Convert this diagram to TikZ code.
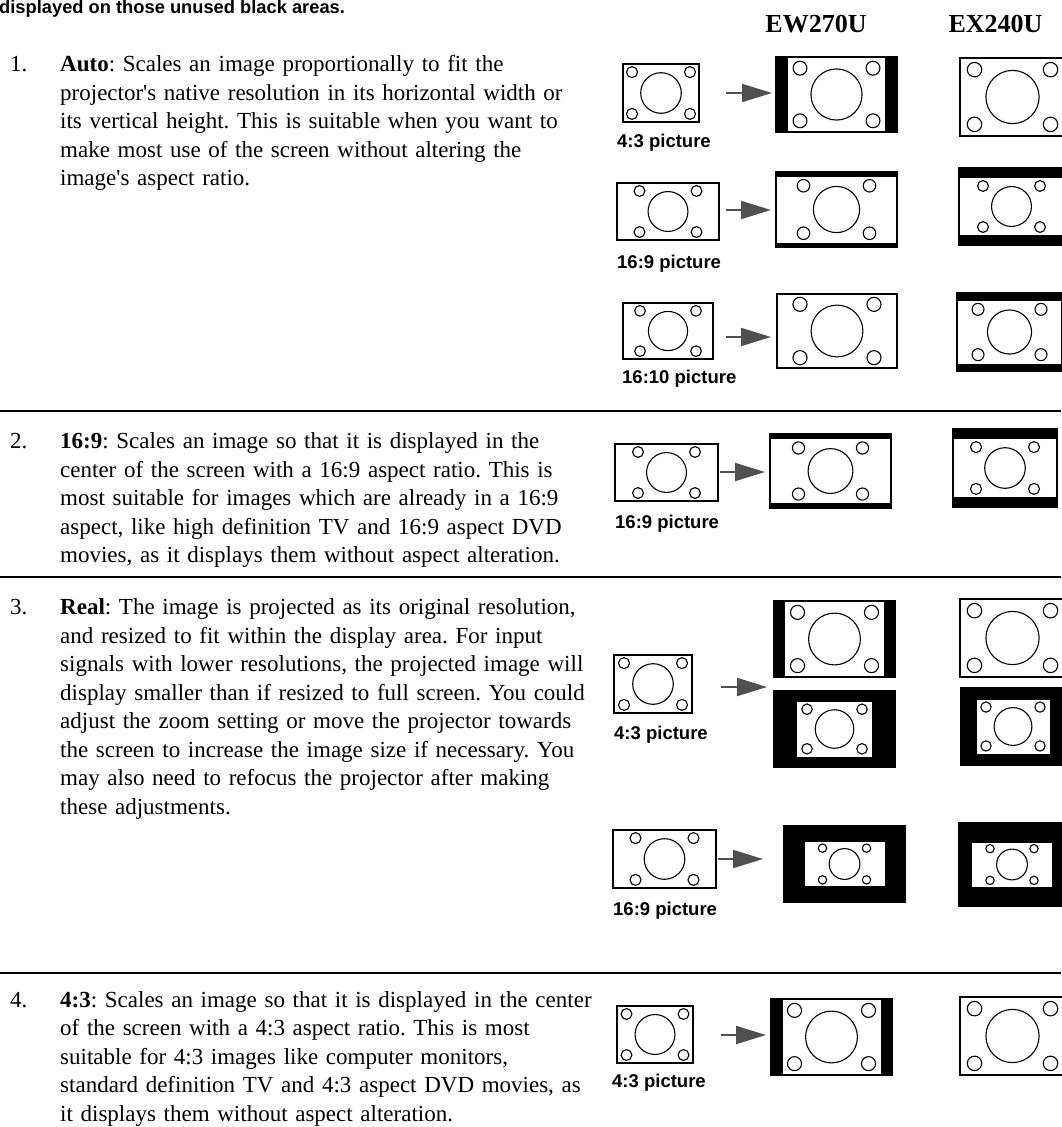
\documentclass[tikz,border=0pt]{standalone}
\usepackage{fontspec}
\setmainfont{Liberation Serif}
\setsansfont{Liberation Sans}
\frenchspacing
\usetikzlibrary{arrows.meta}
\definecolor{arrowgray}{RGB}{80,80,80}
\tikzset{
  pointer/.style={-{Triangle[length=30pt,width=18pt]},draw=arrowgray,fill=arrowgray,line width=2pt},
  rule/.style={line width=2.2pt},
  para/.style={anchor=base west,inner sep=0pt,text width=600pt,align=left,
    font=\fontsize{23}{28.5}\selectfont},
  num/.style={anchor=base west,inner sep=0pt,font=\fontsize{23}{28.5}\selectfont},
  model/.style={anchor=base,inner sep=0pt,font=\fontsize{26}{30}\selectfont\bfseries},
  pictag/.style={anchor=base west,inner sep=0pt,font=\sffamily\bfseries\fontsize{18.5}{22}\selectfont},
  % pictograms
  pics/face/.style={code={
    \draw[line width=1.1pt] (0,0) circle (0.35*#1);
    \foreach \sx in {-1,1} \foreach \sy in {-1,1}
      \draw[line width=1.1pt] (\sx*0.5*#1,\sy*0.36*#1) circle (0.095*#1);
  }},
  pics/source/.style 2 args={code={
    \fill[white] (-#1/2,-#2/2) rectangle (#1/2,#2/2);
    \pic {face=#2};
    \draw[line width=2.6pt] (-#1/2,-#2/2) rectangle (#1/2,#2/2);
  }},
  pics/screen/.style n args={5}{code={
    \fill[black] (-#1/2,-#2/2) rectangle (#1/2,#2/2);
    \fill[white] (-#3/2,-#4/2) rectangle (#3/2,#4/2);
    \begin{scope}
      \clip (-#3/2,-#4/2) rectangle (#3/2,#4/2);
      \pic {face=#5};
    \end{scope}
  }},
}
\begin{document}
\begin{tikzpicture}[x=1pt,y=-1pt]
  \useasboundingbox (0,0) rectangle (1061,1127);

  \node[anchor=base west,inner sep=0pt,font=\sffamily\bfseries\fontsize{18.3}{22}\selectfont] (note) at (-1,13) {displayed on those unused black areas.};
  \node[model] (hdrEW) at (816,32) {EW270U};
  \node[model] (hdrEX) at (995.5,32) {EX240U};

  \foreach \y in {411,577,973} \draw[rule] (0,\y) -- (1061,\y);

  % text column
  \node[num] (num1) at (10,71.5) {1.};
  \node[para] (para1) at (60,71.5) {\textbf{Auto}: Scales an image proportionally to fit the\\
    projector\textquotesingle s native resolution in its horizontal width or\\
    its vertical height. This is suitable when you want to\\
    make most use of the screen without altering the\\
    image\textquotesingle s aspect ratio.};
  \node[num] (num2) at (10,448.5) {2.};
  \node[para] (para2) at (60,448.5) {\textbf{16:9}: Scales an image so that it is displayed in the\\
    center of the screen with a 16:9 aspect ratio. This is\\
    most suitable for images which are already in a 16:9\\
    aspect, like high definition TV and 16:9 aspect DVD\\
    movies, as it displays them without aspect alteration.};
  \node[num] (num3) at (10,614.5) {3.};
  \node[para] (para3) at (60,614.5) {\textbf{Real}: The image is projected as its original resolution,\\
    and resized to fit within the display area. For input\\
    signals with lower resolutions, the projected image will\\
    display smaller than if resized to full screen. You could\\
    adjust the zoom setting or move the projector towards\\
    the screen to increase the image size if necessary. You\\
    may also need to refocus the projector after making\\
    these adjustments.};
  \node[num] (num4) at (10,1007) {4.};
  \node[para] (para4) at (60,1007) {\textbf{4:3}: Scales an image so that it is displayed in the center\\
    of the screen with a 4:3 aspect ratio. This is most\\
    suitable for 4:3 images like computer monitors,\\
    standard definition TV and 4:3 aspect DVD movies, as\\
    it displays them without aspect alteration.};

  % input pictures
  \foreach \x/\y/\w/\h in {661/93/76/58, 668/211.5/102/57, 668/331/90/56, 666.5/472.5/103/57,
      653/684/78/58, 664.5/859/103/58, 655/1034.5/76/57}
    \pic at (\x,\y) {source={\w}{\h}};
  \node[pictag] (tag1) at (617,147) {4:3 picture};
  \node[pictag] (tag2) at (617,268) {16:9 picture};
  \node[pictag] (tag3) at (622,383) {16:10 picture};
  \node[pictag] (tag4) at (615,528) {16:9 picture};
  \node[pictag] (tag5) at (614,739) {4:3 picture};
  \node[pictag] (tag6) at (613,915) {16:9 picture};
  \node[pictag] (tag7) at (612,1087) {4:3 picture};

  \foreach \i/\xs/\xe/\y in {1/726/772/93, 2/726/771/210, 3/726/771/337, 4/720/765/472,
      5/721/767/687, 6/718/763/859, 7/721/766/1035}{
    \coordinate (arr\i s) at (\xs,\y);
    \coordinate (arr\i e) at (\xe,\y);
    \draw[pointer] (arr\i s) -- (arr\i e);
  }

  % projected screens
  \foreach \x/\y/\W/\H/\w/\h/\c in {
      836.5/94.5/123/77/97/73/73, 1012.5/97/107/80/103/76/76,
      836.5/209.5/123/77/119/66/66, 1011.5/206.5/107/79/103/57/57,
      837/331/122/76/118/72/74, 1009.5/332/107/80/103/63/63,
      830.5/471/123/76/119/64/64, 1005/468/106/80/102/58/58,
      834.5/639/123/78/99/74/74, 834.5/729/123/78/75/55/55,
      1012.5/638/107/80/103/76/76, 1013/726.5/106/79/73/54/54,
      844.5/864/123/78/80/44/44, 1012/864.5/108/85/80/44/44,
      831.5/1037/123/78/98/74/74, 1012.5/1036/107/80/103/76/76}
    \pic at (\x,\y) {screen={\W}{\H}{\w}{\h}{\c}};
\end{tikzpicture}
\end{document}
